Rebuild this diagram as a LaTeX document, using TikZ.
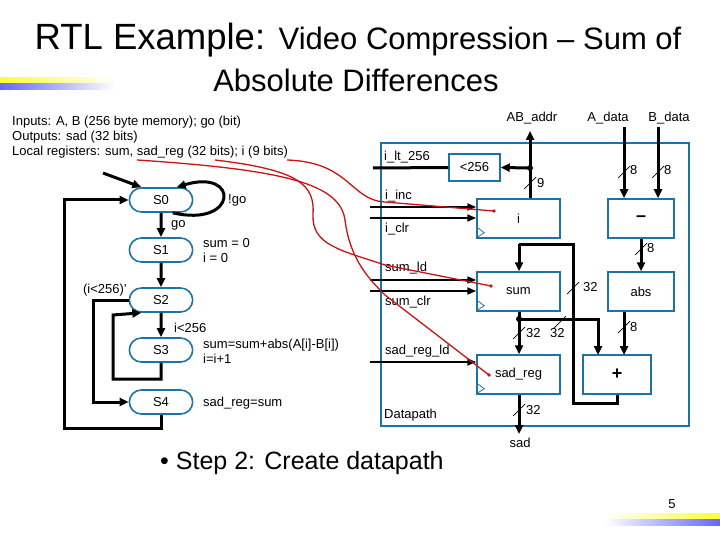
\documentclass[tikz,border=0pt]{standalone}
\usepackage{fontspec}
\setmainfont{Liberation Sans}
\usetikzlibrary{arrows.meta,shapes.misc}
\definecolor{bl}{RGB}{30,115,165}
\definecolor{rd}{RGB}{200,20,20}
\begin{document}
\begin{tikzpicture}[x=1pt,y=-1pt,
  st/.style={draw=bl,line width=1.6pt,rounded rectangle,minimum width=70pt,minimum height=24pt,font=\fontsize{13}{14}\selectfont},
  bx/.style={draw=bl,line width=1.5pt},
  w/.style={line width=3pt},
  ar/.style={line width=3pt,-{Triangle[length=9pt,width=8pt]}},
  thin/.style={line width=2pt,-{Triangle[length=9pt,width=7pt]}},
  t/.style={font=\fontsize{13}{15}\selectfont,inner sep=0pt},
  red/.style={draw=rd,line width=1.3pt},
  sl/.style={line width=0.7pt}]
\useasboundingbox (0,0) rectangle (720,540);
\fill[white] (0,0) rectangle (720,540);
% decorations
\shade[left color=yellow!80!white,right color=white] (0,78) rectangle (115,84);
\shade[left color=blue!60!white,right color=white] (0,84) rectangle (115,90);
\shade[left color=white,right color=yellow!80!white] (605,513) rectangle (720,519);
\shade[left color=white,right color=blue!60!white] (605,519) rectangle (720,525);
\node[inner sep=0pt] (title1) at (358,40) {\fontsize{36.5}{38}\selectfont RTL Example: \fontsize{31}{34}\selectfont Video Compression – Sum of};
\node[inner sep=0pt] (title2) at (356,80) {\fontsize{31}{34}\selectfont Absolute Differences};
\node[t,anchor=west,align=left] (hdr) at (12,137) {Inputs: A, B (256 byte memory); go (bit)\\Outputs: sad (32 bits)\\Local registers: sum, sad\_reg (32 bits); i (9 bits)};
% FSM
\node[st] (s0) at (161,200) {S0};
\node[st] (s1) at (161,250) {S1};
\node[st] (s2) at (161,300) {S2};
\node[st] (s3) at (161,350) {S3};
\node[st] (s4) at (161,402) {S4};
\coordinate (init) at (103,173);
\draw[ar] (init) -- (s0.north west);
\draw[ar] ([xshift=-8pt]s0.south east) .. controls (238,228) and (240,168) .. ([xshift=-4pt]s0.north east);
\draw[ar] (s0) -- (s1);
\draw[ar] (s1) -- (s2);
\draw[ar] (s2) -- (s3);
\draw[ar] (s3.south) -- (161,379) -- (113,379) -- (113,315) -- (s2.south west);
\draw[ar] (s2.west) -- (93,300) -- (93,402) -- (s4.west);
\draw[ar] (s4.south) -- (161,428) -- (64,428) -- (64,200) -- (s0.west);
\node[t,anchor=west] at (228,200) {!go};
\node[t,anchor=west] at (171,225) {go};
\node[t,anchor=west,align=left] at (203,251) {sum = 0\\i = 0};
\node[t,anchor=east] at (127,290) {(i<256)'};
\node[t,anchor=west] at (174,328) {i<256};
\node[t,anchor=west,align=left] at (203,351) {sum=sum+abs(A[i]-B[i])\\i=i+1};
\node[t,anchor=west] at (203,403) {sad\_reg=sum};
% datapath
\draw[bx] (381,143) rectangle (689,426);
\node[bx,minimum width=51pt,minimum height=27pt,inner sep=0pt,font=\fontsize{13}{14}\selectfont] (lt) at (474.5,167.5) {<256};
\node[bx,minimum width=83pt,minimum height=39pt,inner sep=0pt,font=\fontsize{13}{14}\selectfont] (ri) at (518.5,218.5) {i};
\node[bx,minimum width=66pt,minimum height=39pt,inner sep=0pt,font=\fontsize{18}{18}\selectfont] (sub) at (641,218.5) {\textbf{–}};
\node[bx,minimum width=83pt,minimum height=39pt,inner sep=0pt,font=\fontsize{13}{14}\selectfont] (rsum) at (518.5,291.5) {sum};
\node[bx,minimum width=66pt,minimum height=39pt,inner sep=0pt,font=\fontsize{13}{14}\selectfont] (abs) at (641,291.5) {abs};
\node[bx,minimum width=83pt,minimum height=39pt,inner sep=0pt,font=\fontsize{13}{14}\selectfont] (rsad) at (518.5,374.5) {sad\_reg};
\node[bx,minimum width=68pt,minimum height=39pt,inner sep=0pt,font=\fontsize{18}{18}\selectfont\bfseries] (add) at (617,374.5) {+};
\foreach \n in {ri,rsum,rsad}{\draw[draw=bl,line width=0.8pt] ([yshift=12pt]\n.south west) -- ([xshift=8pt,yshift=6pt]\n.south west) -- ([yshift=1pt]\n.south west);}
\node[t] (abaddr) at (532,118) {AB\_addr};
\node[t] (adata) at (608,118) {A\_data};
\node[t] (bdata) at (669,118) {B\_data};
\node[t] (sad) at (520,443) {sad};
\node[t,anchor=west] at (384,415) {Datapath};
\coordinate (abtop) at (530,131);
\coordinate (abdot) at (530,168);
\draw[ar] (ri.north -| abdot) -- (abtop);
\draw[ar] (abdot) -- (lt.east);
\fill (abdot) circle (3pt);
\coordinate (ltout) at (373,168);
\draw[w] (lt.west) -- (ltout);
\node[t,anchor=south west] at (384,163) {i\_lt\_256};
\coordinate (ainc) at (370,207); \coordinate (aclr) at (370,218);
\coordinate (sld) at (370,280); \coordinate (sclr) at (370,291);
\coordinate (rld) at (370,362);
\draw[thin] (ainc) -- (ainc -| ri.west);
\draw[thin] (aclr) -- (aclr -| ri.west);
\draw[thin] (sld) -- (sld -| rsum.west);
\draw[thin] (sclr) -- (sclr -| rsum.west);
\draw[thin] (rld) -- (rld -| rsad.west);
\node[t,anchor=west] at (385,196) {i\_inc};
\node[t,anchor=west] at (385,229) {i\_clr};
\node[t,anchor=west] at (385,268) {sum\_ld};
\node[t,anchor=west] at (385,302) {sum\_clr};
\node[t,anchor=west] at (385,351) {sad\_reg\_ld};
\coordinate (atop) at (624,127); \coordinate (btop) at (658,127);
\draw[ar] (atop) -- (atop |- sub.north);
\draw[ar] (btop) -- (btop |- sub.north);
\draw[ar] (sub.south) -- (abs.north);
\draw[ar] (abs.south -| 624,0) -- (624,355);
\coordinate (f1) at (617,403); \coordinate (f2) at (573,403); \coordinate (f3) at (573,244); \coordinate (f4) at (519,244);
\draw[w] (add.south -| f1) -- (f1) -- (f2) -- (f3) -- (f4);
\draw[ar] (f4) -- (rsum.north -| f4);
\coordinate (sdot) at (519,319);
\draw[ar] (rsum.south -| sdot) -- (rsad.north -| sdot);
\fill (sdot) circle (3pt);
\draw[ar] (sdot) -- (598,319) -- (598,355);
\draw[ar] (rsad.south -| 519,0) -- (519,434);
% bus slashes
\foreach \x/\y in {530/183,624/172,658/172,641/249,573/288,519/333,560/322,624/327,519/410}{\draw[sl] (\x-6,\y+6) -- (\x+6,\y-6);}
\node[t,anchor=west] at (537,183) {9};
\node[t,anchor=west] at (630,170) {8};
\node[t,anchor=west] at (664,170) {8};
\node[t,anchor=west] at (647,248) {8};
\node[t,anchor=west] at (583,287) {32};
\node[t,anchor=west] at (526,333) {32};
\node[t,anchor=west] at (550,333) {32};
\node[t,anchor=west] at (630,327) {8};
\node[t,anchor=west] at (526,410) {32};
% red annotation curves
\coordinate (r1) at (287,160); \coordinate (r2) at (215,160); \coordinate (r3) at (137,160);
\coordinate (d1) at (494,211); \coordinate (d2) at (491,286); \coordinate (d3) at (489,375);
\draw[red] (r1) .. controls (350,162) and (350,200) .. (385,202) -- (d1);
\draw[red] (r2) .. controls (300,170) and (315,185) .. (313,215) .. controls (312,245) and (340,250) .. (385,265) -- (d2);
\draw[red] (r3) .. controls (290,170) and (340,185) .. (345,220) .. controls (350,260) and (370,280) .. (385,295) -- (d3);
\foreach \d in {d1,d2,d3}{\fill[rd] (\d) circle (1.8pt);}
\node[inner sep=0pt,anchor=west] (step) at (160,463) {\fontsize{25}{27}\selectfont • Step 2: Create datapath};
\node[t] (pg) at (672,504) {5};
\end{tikzpicture}
\end{document}
